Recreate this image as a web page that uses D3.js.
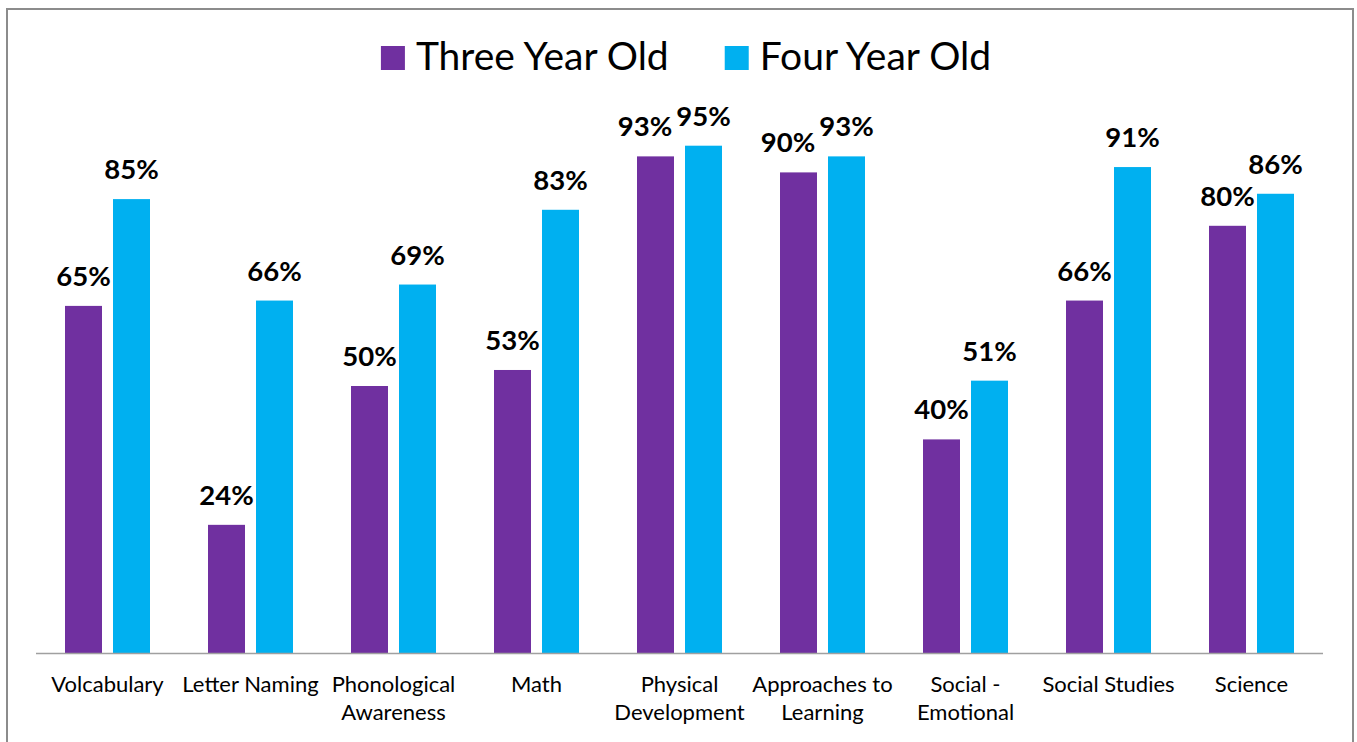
<!DOCTYPE html>
<html>
<head>
<meta charset="utf-8">
<script src="https://cdn.jsdelivr.net/npm/d3@7"></script>
<style>
  html, body { margin: 0; padding: 0; background: #fff; }
  svg { display: block; font-family: Lato, "Open Sans", sans-serif; }
</style>
</head>
<body>
<svg id="chart" width="1357" height="742"></svg>
<script>
// data
const categories = ['Volcabulary', 'Letter Naming', 'Phonological\nAwareness', 'Math',
    'Physical\nDevelopment', 'Approaches to\nLearning', 'Social -\nEmotional',
    'Social Studies', 'Science'];
const seriesNames = ['Three Year Old', 'Four Year Old'];
const threeYearOld = [65, 24, 50, 53, 93, 90, 40, 66, 80];
const fourYearOld = [85, 66, 69, 83, 95, 93, 51, 91, 86];

const COLORS = ['#7030A0', '#00B0F0'];
const BASELINE_Y = 653;
const LABEL_GAP = 4;

const svg = d3.select('#chart');

// frame
svg.append('rect')
    .attr('x', 7).attr('y', 9)
    .attr('width', 1346).attr('height', 760)
    .attr('fill', '#fff')
    .attr('stroke', '#8c8c8c')
    .attr('stroke-width', 2);

const x = d3.scaleBand()
    .domain(categories)
    .range([36, 1323]);

const xInner = d3.scaleBand()
    .domain(seriesNames)
    .range([29, 114])
    .paddingInner(11 / 48);

const y = d3.scaleLinear()
    .domain([0, 100])
    .range([BASELINE_Y, 119]);

const rows = categories.map((c, i) => ({
    cat: c,
    values: [
        { s: seriesNames[0], v: threeYearOld[i] },
        { s: seriesNames[1], v: fourYearOld[i] }
    ]
}));

const groups = svg.append('g')
    .selectAll('g')
    .data(rows)
    .enter()
    .append('g')
        .attr('transform', d => `translate(${x(d.cat)},0)`);

groups.selectAll('rect')
    .data(d => d.values)
    .enter()
    .append('rect')
        .attr('x', d => xInner(d.s))
        .attr('y', d => y(d.v))
        .attr('width', xInner.bandwidth())
        .attr('height', d => y(0) - y(d.v))
        .attr('fill', (d, i) => COLORS[i]);

groups.selectAll('text.val')
    .data(d => d.values)
    .enter()
    .append('text')
        .attr('class', 'val')
        .attr('x', d => xInner(d.s) + xInner.bandwidth() / 2)
        .attr('y', d => y(d.v) - 20)
        .attr('text-anchor', 'middle')
        .attr('font-size', 27.5)
        .attr('font-weight', 'bold')
        .attr('fill', '#000')
        .text(d => d.v + '%');

// push the left label away when the two labels of a group collide (like Excel does)
groups.each(function () {
    const labels = d3.select(this).selectAll('text.val').nodes();
    const a = labels[0].getBBox(), b = labels[1].getBBox();
    const vOverlap = a.y < b.y + b.height - 6 && b.y < a.y + a.height - 6;
    const gap = b.x - (a.x + a.width);
    if (vOverlap && gap < LABEL_GAP) {
        const l = d3.select(labels[0]);
        l.attr('x', +l.attr('x') - (LABEL_GAP - gap));
    }
});

// baseline
svg.append('line')
    .attr('x1', 36).attr('x2', 1323)
    .attr('y1', BASELINE_Y + 0.5).attr('y2', BASELINE_Y + 0.5)
    .attr('stroke', '#a0a0a0')
    .attr('stroke-width', 1.5);

// category labels
const catLabels = svg.append('g')
    .selectAll('text')
    .data(categories)
    .enter()
    .append('text')
        .attr('x', d => x(d) + x.bandwidth() / 2)
        .attr('y', 692)
        .attr('text-anchor', 'middle')
        .attr('font-size', 22)
        .attr('fill', '#000');

catLabels.selectAll('tspan')
    .data(d => d.split('\n'))
    .enter()
    .append('tspan')
        .attr('x', function () { return d3.select(this.parentNode).attr('x'); })
        .attr('dy', (d, i) => i === 0 ? 0 : 28)
        .text(d => d);

// legend
const legend = svg.append('g');
const items = legend.selectAll('g')
    .data(seriesNames)
    .enter()
    .append('g');

items.append('rect')
    .attr('width', 24).attr('height', 24)
    .attr('y', 46)
    .attr('fill', (d, i) => COLORS[i]);

items.append('text')
    .attr('x', 35)
    .attr('y', 70)
    .attr('font-size', 39)
    .attr('fill', '#000')
    .text(d => d);

let offset = 0;
const widths = [];
items.each(function () {
    const w = 35 + d3.select(this).select('text').node().getComputedTextLength();
    widths.push(w);
});
items.attr('transform', (d, i) => {
    const t = `translate(${offset},0)`;
    offset += widths[i] + 56;
    return t;
});
const total = offset - 56;
legend.attr('transform', `translate(${686 - total / 2},0)`);
</script>
</body>
</html>
